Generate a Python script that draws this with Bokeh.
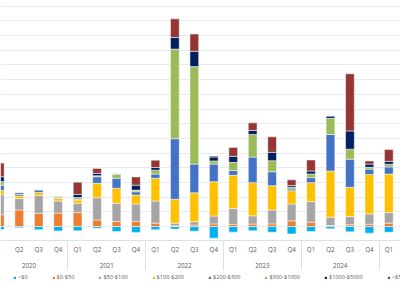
from bokeh.plotting import figure
from bokeh.layouts import column
from bokeh.models import (ColumnDataSource, Range1d, FixedTicker, LinearAxis,
                          Legend, LegendItem, SingleIntervalTicker)
from bokeh.embed import file_html
from bokeh.resources import INLINE

# ---- data ----
years = ["2020"] * 4 + ["2021"] * 4 + ["2022"] * 4 + ["2023"] * 4 + ["2024"] * 4 + ["2025"]
quarters = ["Q1", "Q2", "Q3", "Q4"] * 5 + ["Q1"]
year_labels = ["2020", "2021", "2022", "2023", "2024", "2025"]

series_labels = ["<$0", "$0-$50", "$50-$100", "$100-$200", "$200-$300",
                 "$300-$1000", "$1000-$5000", ">$5000"]

neg = [-20, -8, -22, -30, -29, -11, -34, -40, -22, -17, -32, -79, -38, -28, -39, -50, -34, -15, -36, -45, -39]
b0_50 = [81, 113, 90, 92, 95, 45, 34, 34, 23, 5, 11, 18, 15, 17, 18, 39, 30, 7, 12, 16, 23]
b50_100 = [136, 77, 122, 82, 64, 151, 125, 120, 151, 18, 22, 54, 108, 56, 95, 115, 140, 57, 56, 70, 72]
b100_200 = [29, 18, 20, 18, 22, 98, 102, 61, 154, 163, 197, 233, 226, 226, 165, 90, 129, 314, 199, 269, 262]
b200_300 = [35, 10, 17, 4, 5, 45, 68, 22, 29, 412, 195, 120, 32, 174, 95, 12, 34, 249, 192, 36, 49]
b300_1000 = [26, 2, 2, 8, 11, 7, 27, 11, 27, 610, 664, 22, 56, 154, 75, 12, 25, 110, 68, 12, 18]
b1000_5000 = [32, 10, 3, 4, 22, 16, 3, 34, 18, 79, 104, 27, 41, 27, 57, 11, 20, 16, 124, 22, 20]
b5000 = [93, 0, 0, 0, 83, 34, 0, 56, 50, 127, 118, 7, 61, 52, 106, 39, 75, 0, 389, 22, 81]

colors = ["#00B0F0", "#ED7D31", "#A5A5A5", "#FFC000", "#4472C4",
          "#9BBB59", "#002060", "#943634"]

# ---- build ----
x = list(range(len(quarters)))
src = ColumnDataSource(dict(x=x, neg=neg, s1=b0_50, s2=b50_100, s3=b100_200,
                            s4=b200_300, s5=b300_1000, s6=b1000_5000, s7=b5000))
stack_keys = ["s1", "s2", "s3", "s4", "s5", "s6", "s7"]

p = figure(width=400, height=270, x_range=Range1d(0.036, 20.6), y_range=Range1d(-95, 1539),
           output_backend="svg", toolbar_location=None,
           x_axis_location=None, y_axis_location=None, min_border=0)
p.outline_line_color = None
p.xgrid.visible = False
p.ygrid.ticker = SingleIntervalTicker(interval=100)
p.ygrid.grid_line_color = "#e8ecf2"
p.ygrid.grid_line_width = 1

BW = 0.45
rneg = p.vbar(x="x", top="neg", bottom=0, width=BW, source=src,
              fill_color=colors[0], line_color="white", line_width=0.5)
rstack = p.vbar_stack(stack_keys, x="x", width=BW, source=src,
                      fill_color=colors[1:], line_color="white", line_width=0.5)

# year separators & centers
sep = [i - 0.5 for i in range(1, len(years)) if years[i] != years[i - 1]]
first_idx = [years.index(y) for y in year_labels]
centers = [f + 1.5 for f in first_idx]

label_color = "#595959"
FONT = "Open Sans"
SEP_COLOR = "#d9e1ea"

def plain(axis, size="6.2px"):
    axis.major_tick_line_color = None
    axis.minor_tick_line_color = None
    axis.major_tick_in = 0
    axis.major_tick_out = 0
    axis.minor_tick_in = 0
    axis.minor_tick_out = 0
    axis.major_label_text_font_size = size
    axis.major_label_text_font = FONT
    axis.major_label_text_color = label_color

qaxis = LinearAxis(ticker=FixedTicker(ticks=x),
                   major_label_overrides={i: q for i, q in zip(x, quarters)})
plain(qaxis)
qaxis.axis_line_color = SEP_COLOR
qaxis.major_label_standoff = 4
p.add_layout(qaxis, "below")

yaxis = LinearAxis(ticker=FixedTicker(ticks=centers),
                   major_label_overrides={c: yl for c, yl in zip(centers, year_labels)})
plain(yaxis)
yaxis.axis_line_color = None
yaxis.major_label_standoff = 6
p.add_layout(yaxis, "below")

# label-less axis whose inward minor ticks draw the year separators
saxis = LinearAxis(ticker=FixedTicker(ticks=[], minor_ticks=sep))
plain(saxis, size="0px")
saxis.axis_line_color = None
saxis.major_label_standoff = 0
saxis.minor_tick_line_color = SEP_COLOR
saxis.minor_tick_in = 29
p.add_layout(saxis, "below")

# ---- legend strip ----
p2 = figure(width=400, height=13, x_range=Range1d(0, 1), y_range=Range1d(0, 1),
            output_backend="svg", toolbar_location=None,
            x_axis_location=None, y_axis_location=None, min_border=0)
p2.outline_line_color = None
p2.xgrid.visible = False
p2.ygrid.visible = False
leg_renderers = [p2.vbar(x=[0], top=[0], width=0, fill_color=c, line_alpha=0)
                 for c in colors]
legend = Legend(items=[LegendItem(label=l, renderers=[r]) for l, r in zip(series_labels, leg_renderers)],
                orientation="horizontal", location=(13, 2))
legend.label_text_font_size = "5.6px"
legend.label_text_font = FONT
legend.label_text_color = label_color
legend.glyph_width = 3
legend.glyph_height = 3
legend.label_standoff = 2
legend.label_height = 7
legend.label_width = 0
legend.spacing = 24
legend.padding = 0
legend.margin = 0
legend.border_line_color = None
legend.background_fill_alpha = 0
p2.add_layout(legend, "center")

layout = column(p, p2, spacing=0)
open("out.html", "w").write(file_html(layout, INLINE))
